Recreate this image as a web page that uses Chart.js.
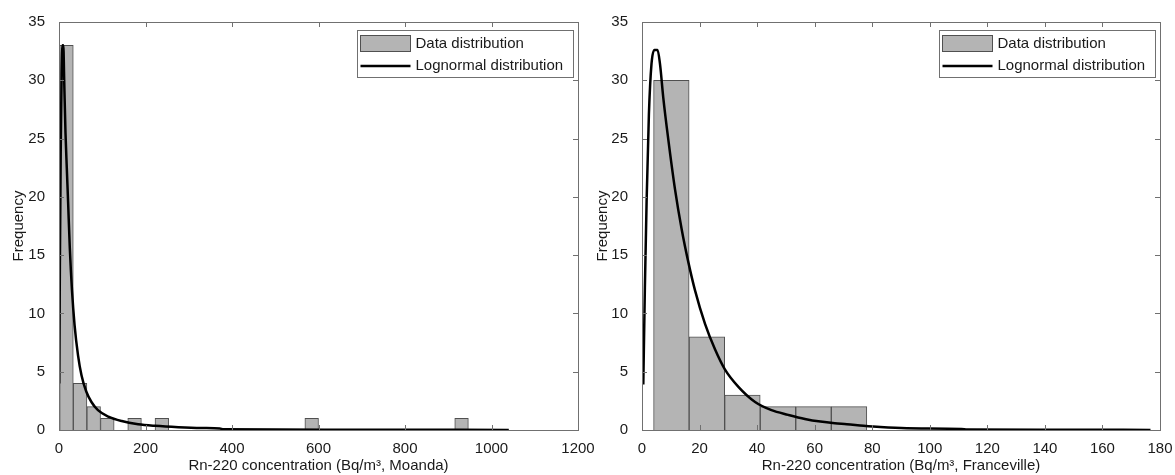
<!DOCTYPE html>
<html>
<head>
<meta charset="utf-8">
<script src="https://cdn.jsdelivr.net/npm/chart.js@4.4.0/dist/chart.umd.min.js"></script>
<style>
  html, body { margin: 0; padding: 0; background: #fff; }
  #wrap { position: relative; width: 1175px; height: 475px; overflow: hidden; }
  canvas { position: absolute; top: 0; }
  #moanda { left: 0; }
  #franceville { left: 590px; }
</style>
</head>
<body>
<div id="wrap">
  <canvas id="moanda" width="600" height="475"></canvas>
  <canvas id="franceville" width="585" height="475"></canvas>
</div>
<script>
// Moanda: histogram bin centres (Bq/m3) and counts
const moandaBins = [17.25, 48.75, 80.25, 111.75, 174.75, 237.75, 584.25, 930.75];
const moandaCounts = [33, 4, 2, 1, 1, 1, 1, 1];
// lognormal fit
const moandaFitX = [0.5, 2, 4, 6, 8, 10, 12, 15, 18, 21, 25, 30, 36, 44, 52, 63, 75, 90, 114, 145, 183, 222, 276, 330, 372, 380, 500, 700, 1040];
const moandaFitY = [4, 14, 24, 30.5, 33, 33, 30, 25.5, 22.5, 19.6, 15.6, 12, 9, 6.4, 4.7, 3.3, 2.4, 1.7, 1.15, 0.77, 0.5, 0.36, 0.24, 0.17, 0.13, 0.06, 0.04, 0.02, 0.01];
const moandaXTicks = [0, 200, 400, 600, 800, 1000, 1200];

// Franceville
const francevilleBins = [10.2, 22.55, 34.9, 47.25, 59.6, 71.95];
const francevilleCounts = [30, 8, 3, 2, 2, 2];
const francevilleFitX = [0.45, 1.0, 1.6, 2.4, 3.3, 4.3, 5.4, 6.25, 7.4, 9.1, 11.5, 13.8, 16.1, 18.4, 21.9, 25.4, 28.8, 33.5, 39.3, 45, 50.8, 56.6, 62, 67, 71.2, 77, 82.8, 92, 111, 113, 140, 176.7];
const francevilleFitY = [3.9, 12.2, 19.6, 27.1, 31.4, 32.6, 32.6, 31.4, 28.5, 25.0, 20.6, 17.2, 14.4, 12.0, 9.1, 6.9, 5.2, 3.7, 2.4, 1.7, 1.3, 0.95, 0.72, 0.58, 0.5, 0.36, 0.25, 0.15, 0.09, 0.04, 0.02, 0.01];
const francevilleXTicks = [0, 20, 40, 60, 80, 100, 120, 140, 160, 180];

const freqTicks = [0, 5, 10, 15, 20, 25, 30, 35];

const FONT = "Arial, 'Liberation Sans', sans-serif";
const AXIS = '#707070';
const TEXT = '#1a1a1a';

// MATLAB style box with inward ticks on all four sides
const boxAxes = {
  id: 'boxAxes',
  afterDatasetsDraw(chart) {
    const { ctx, chartArea: a, scales } = chart;
    const len = 5;
    ctx.save();
    ctx.strokeStyle = AXIS;
    ctx.lineWidth = 1;
    ctx.beginPath();
    scales.x.ticks.forEach(t => {
      const px = Math.round(scales.x.getPixelForValue(t.value)) + 0.5;
      ctx.moveTo(px, a.bottom); ctx.lineTo(px, a.bottom - len);
      ctx.moveTo(px, a.top); ctx.lineTo(px, a.top + len);
    });
    scales.y.ticks.forEach(t => {
      const py = Math.round(scales.y.getPixelForValue(t.value)) + 0.5;
      ctx.moveTo(a.left, py); ctx.lineTo(a.left + len, py);
      ctx.moveTo(a.right, py); ctx.lineTo(a.right - len, py);
    });
    ctx.stroke();
    ctx.strokeRect(Math.round(a.left) + 0.5, Math.round(a.top) + 0.5,
      Math.round(a.right - a.left), Math.round(a.bottom - a.top));
    ctx.restore();
  }
};

// legend drawn inside the top-right corner
const insideLegend = {
  id: 'insideLegend',
  afterDraw(chart) {
    const { ctx, chartArea: a } = chart;
    const ds = chart.data.datasets;
    const bars = ds.find(d => d.type === 'bar');
    const curve = ds.find(d => d.type === 'line');
    const w = 216, h = 47;
    const x0 = Math.round(a.right - 5 - w) + 0.5;
    const y0 = Math.round(a.top + 8) + 0.5;
    ctx.save();
    ctx.fillStyle = '#fff';
    ctx.fillRect(x0, y0, w, h);
    ctx.strokeStyle = AXIS;
    ctx.lineWidth = 1;
    ctx.strokeRect(x0, y0, w, h);

    ctx.fillStyle = bars.backgroundColor;
    ctx.fillRect(x0 + 3, y0 + 5, 50, 16);
    ctx.strokeStyle = bars.borderColor;
    ctx.strokeRect(x0 + 3, y0 + 5, 50, 16);

    ctx.strokeStyle = curve.borderColor;
    ctx.lineWidth = curve.borderWidth;
    ctx.beginPath();
    ctx.moveTo(x0 + 3, y0 + 35.5);
    ctx.lineTo(x0 + 53, y0 + 35.5);
    ctx.stroke();

    ctx.fillStyle = TEXT;
    ctx.font = '15px ' + FONT;
    ctx.textBaseline = 'middle';
    ctx.textAlign = 'left';
    ctx.fillText(bars.label, x0 + 58, y0 + 13);
    ctx.fillText(curve.label, x0 + 58, y0 + 35.5);
    ctx.restore();
  }
};

function makeChart(id, bins, counts, fitX, fitY, xTicks, xTitle, yAxisWidth, padRight, yTitlePad) {
  return new Chart(document.getElementById(id), {
    type: 'bar',
    data: {
      datasets: [
        {
          type: 'line',
          label: 'Lognormal distribution',
          data: fitX.map((x, i) => ({ x: x, y: fitY[i] })),
          borderColor: '#000',
          borderWidth: 2.5,
          pointRadius: 0,
          fill: false,
          cubicInterpolationMode: 'monotone',
          order: 0
        },
        {
          type: 'bar',
          label: 'Data distribution',
          data: bins.map((x, i) => ({ x: x, y: counts[i] })),
          backgroundColor: '#b4b4b4',
          borderColor: '#505050',
          borderWidth: 1,
          borderSkipped: 'bottom',
          barPercentage: 1,
          categoryPercentage: 1,
          order: 1
        }
      ]
    },
    options: {
      responsive: false,
      animation: false,
      devicePixelRatio: 1,
      layout: { padding: { left: 0, right: padRight, top: 22, bottom: 0 } },
      plugins: { legend: { display: false }, tooltip: { enabled: false } },
      scales: {
        x: {
          type: 'linear',
          offset: false,
          min: xTicks[0],
          max: xTicks[xTicks.length - 1],
          afterBuildTicks: s => { s.ticks = xTicks.map(v => ({ value: v })); },
          afterFit: s => { s.height = 45; },
          grid: { display: false },
          border: { display: false },
          ticks: {
            font: { family: FONT, size: 15 }, color: TEXT, padding: 2, maxRotation: 0,
            callback: v => String(v)
          },
          title: {
            display: true,
            text: xTitle,
            font: { family: FONT, size: 15 },
            color: TEXT,
            padding: { top: 0, bottom: 0 }
          }
        },
        y: {
          min: 0,
          max: 35,
          afterBuildTicks: s => { s.ticks = freqTicks.map(v => ({ value: v })); },
          afterFit: s => { s.width = yAxisWidth; },
          grid: { display: false },
          border: { display: false },
          ticks: { font: { family: FONT, size: 15 }, color: TEXT, padding: 6, callback: v => String(v) },
          title: {
            display: true,
            text: 'Frequency',
            font: { family: FONT, size: 15 },
            color: TEXT,
            padding: { top: yTitlePad, bottom: 0 }
          }
        }
      }
    },
    plugins: [boxAxes, insideLegend]
  });
}

makeChart('moanda', moandaBins, moandaCounts, moandaFitX, moandaFitY, moandaXTicks,
  'Rn-220 concentration (Bq/m³, Moanda)', 59, 22, 10);
makeChart('franceville', francevilleBins, francevilleCounts, francevilleFitX, francevilleFitY, francevilleXTicks,
  'Rn-220 concentration (Bq/m³, Franceville)', 52, 15, 4);
</script>
</body>
</html>
